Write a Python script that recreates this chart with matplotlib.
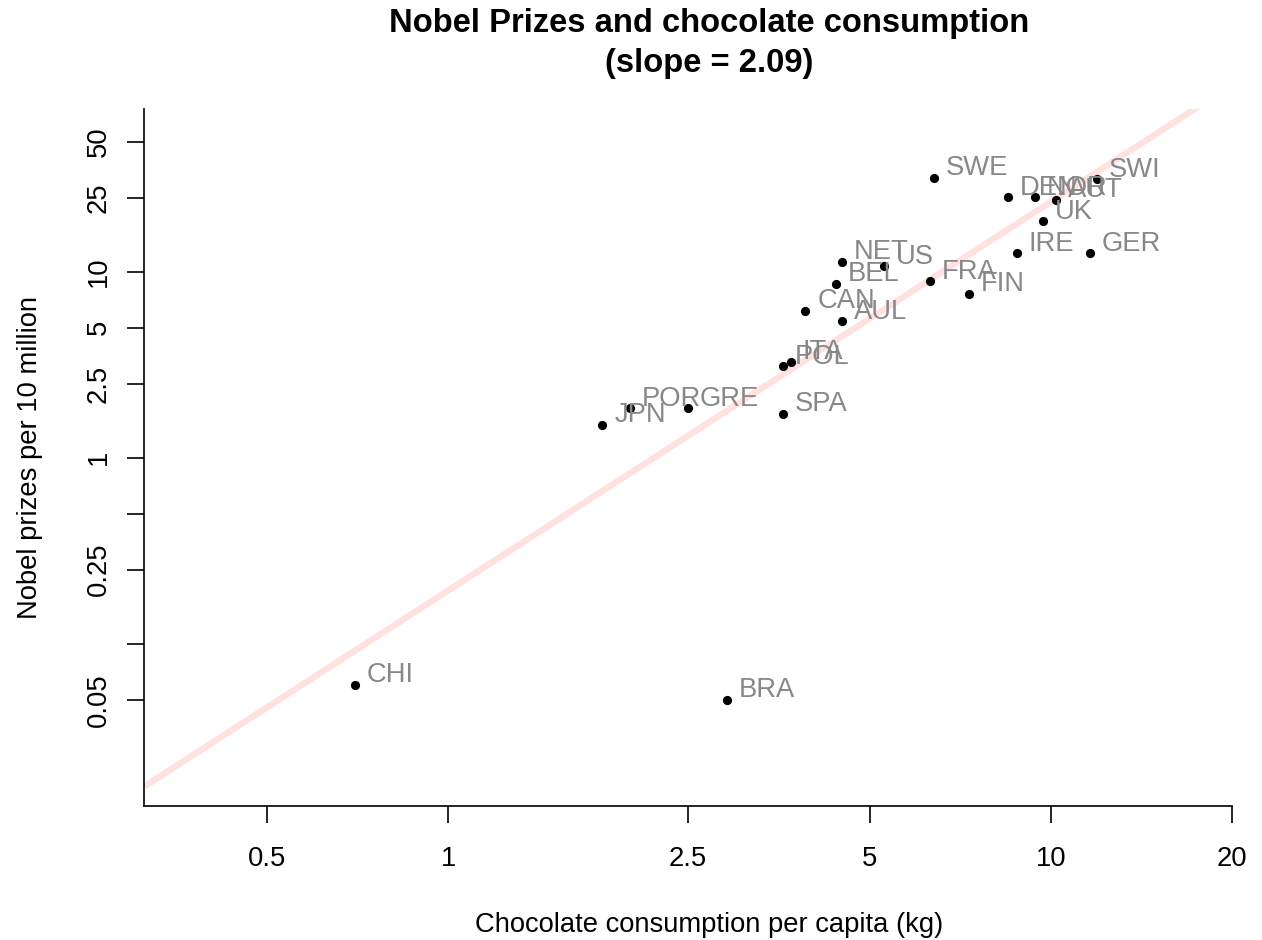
import numpy as np
import matplotlib
matplotlib.use("Agg")
import matplotlib.pyplot as plt
from matplotlib.transforms import offset_copy

plt.rcParams['font.family'] = ['Liberation Sans', 'DejaVu Sans']

# ---- data ----
countries = ["CHI", "BRA", "JPN", "POR", "GRE", "SPA", "POL", "ITA", "CAN", "AUL",
             "BEL", "NET", "US", "FRA", "FIN", "SWE", "DEN", "NOR", "AUT", "UK",
             "IRE", "GER", "SWI"]
chocolate = [0.70, 2.90, 1.80, 2.00, 2.50, 3.59, 3.59, 3.70, 3.91, 4.50,
             4.40, 4.50, 5.28, 6.30, 7.31, 6.39, 8.48, 9.40, 10.19, 9.70,
             8.78, 11.60, 11.92]
nobel = [0.060, 0.050, 1.50, 1.85, 1.85, 1.72, 3.11, 3.27, 6.15, 5.43,
         8.59, 11.28, 10.73, 8.91, 7.59, 31.9, 25.2, 25.2, 24.3, 18.7,
         12.6, 12.6, 31.5]
fit_slope = 2.09
fit_intercept_log10 = -0.7135

x_ticks = [0.5, 1, 2.5, 5, 10, 20]
x_ticklabels = ["0.5", "1", "2.5", "5", "10", "20"]
y_ticks = [50, 25, 10, 5, 2.5, 1, 0.5, 0.25, 0.1, 0.05]
y_ticklabels = ["50", "25", "10", "5", "2.5", "1", "", "0.25", "", "0.05"]

title_line1 = "Nobel Prizes and chocolate consumption"
title_line2 = "(slope = %.2f)" % fit_slope
xlabel = "Chocolate consumption per capita (kg)"
ylabel = "Nobel prizes per 10 million"

# ---- figure ----
W, H = 1262, 940
fig = plt.figure(figsize=(W / 100, H / 100), dpi=100)
left_px, right_px, top_px, bottom_px = 144.3, 1274.7, 109.0, 805.7
ax = fig.add_axes([left_px / W, 1 - bottom_px / H,
                   (right_px - left_px) / W, (bottom_px - top_px) / H])
ax.set_xscale('log')
ax.set_yscale('log')
xlim = (10 ** ((left_px - 448.3) / 602.7), 10 ** ((right_px - 448.3) / 602.7))
ylim = (10 ** ((457.7 - bottom_px) / 186.0), 10 ** ((457.7 - top_px) / 186.0))
ax.set_xlim(*xlim)
ax.set_ylim(*ylim)

# regression line
xs = np.array(xlim)
ys = 10 ** fit_intercept_log10 * xs ** fit_slope
ax.plot(xs, ys, color='#FFE2E0', lw=4.6, solid_capstyle='butt', zorder=1)

# points
ax.plot(chocolate, nobel, 'o', color='black', markersize=5.6, zorder=3)

# labels
tr = offset_copy(ax.transData, fig=fig, x=8.6, y=1.8, units='points')
for c, xv, yv in zip(countries, chocolate, nobel):
    ax.text(xv, yv, c, transform=tr, ha='left', va='baseline',
            fontsize=19.7, color='#888888', zorder=4)

# axes styling
for s in ['top', 'right']:
    ax.spines[s].set_visible(False)
ax.spines['left'].set_linewidth(1.2)
ax.spines['bottom'].set_linewidth(1.2)
ax.spines['bottom'].set_bounds(xlim[0], 20)

ax.xaxis.set_minor_locator(matplotlib.ticker.NullLocator())
ax.yaxis.set_minor_locator(matplotlib.ticker.NullLocator())
ax.set_xticks(x_ticks)
ax.set_xticklabels(x_ticklabels)
ax.set_yticks(y_ticks)
ax.set_yticklabels(y_ticklabels)
ax.tick_params(axis='both', length=12.2, width=1.2, labelsize=19.7, color='black')
ax.tick_params(axis='x', pad=17)
ax.tick_params(axis='y', pad=11)
for lab in ax.get_yticklabels():
    lab.set_rotation(90)
    lab.set_verticalalignment('center')
    lab.set_horizontalalignment('right')

cx = 709.5 / W
fig.text(cx, 1 - 32 / H, title_line1, ha='center', va='baseline',
         fontsize=23.6, fontweight='bold')
fig.text(cx, 1 - 72 / H, title_line2, ha='center', va='baseline',
         fontsize=23.6, fontweight='bold')
fig.text(cx, 1 - 932 / H, xlabel, ha='center', va='baseline', fontsize=19.7)
fig.text(37.5 / W, 1 - 457.4 / H, ylabel, ha='center', va='baseline',
         rotation=90, fontsize=19.7, rotation_mode='anchor')

fig.savefig("out.png", dpi=100)
